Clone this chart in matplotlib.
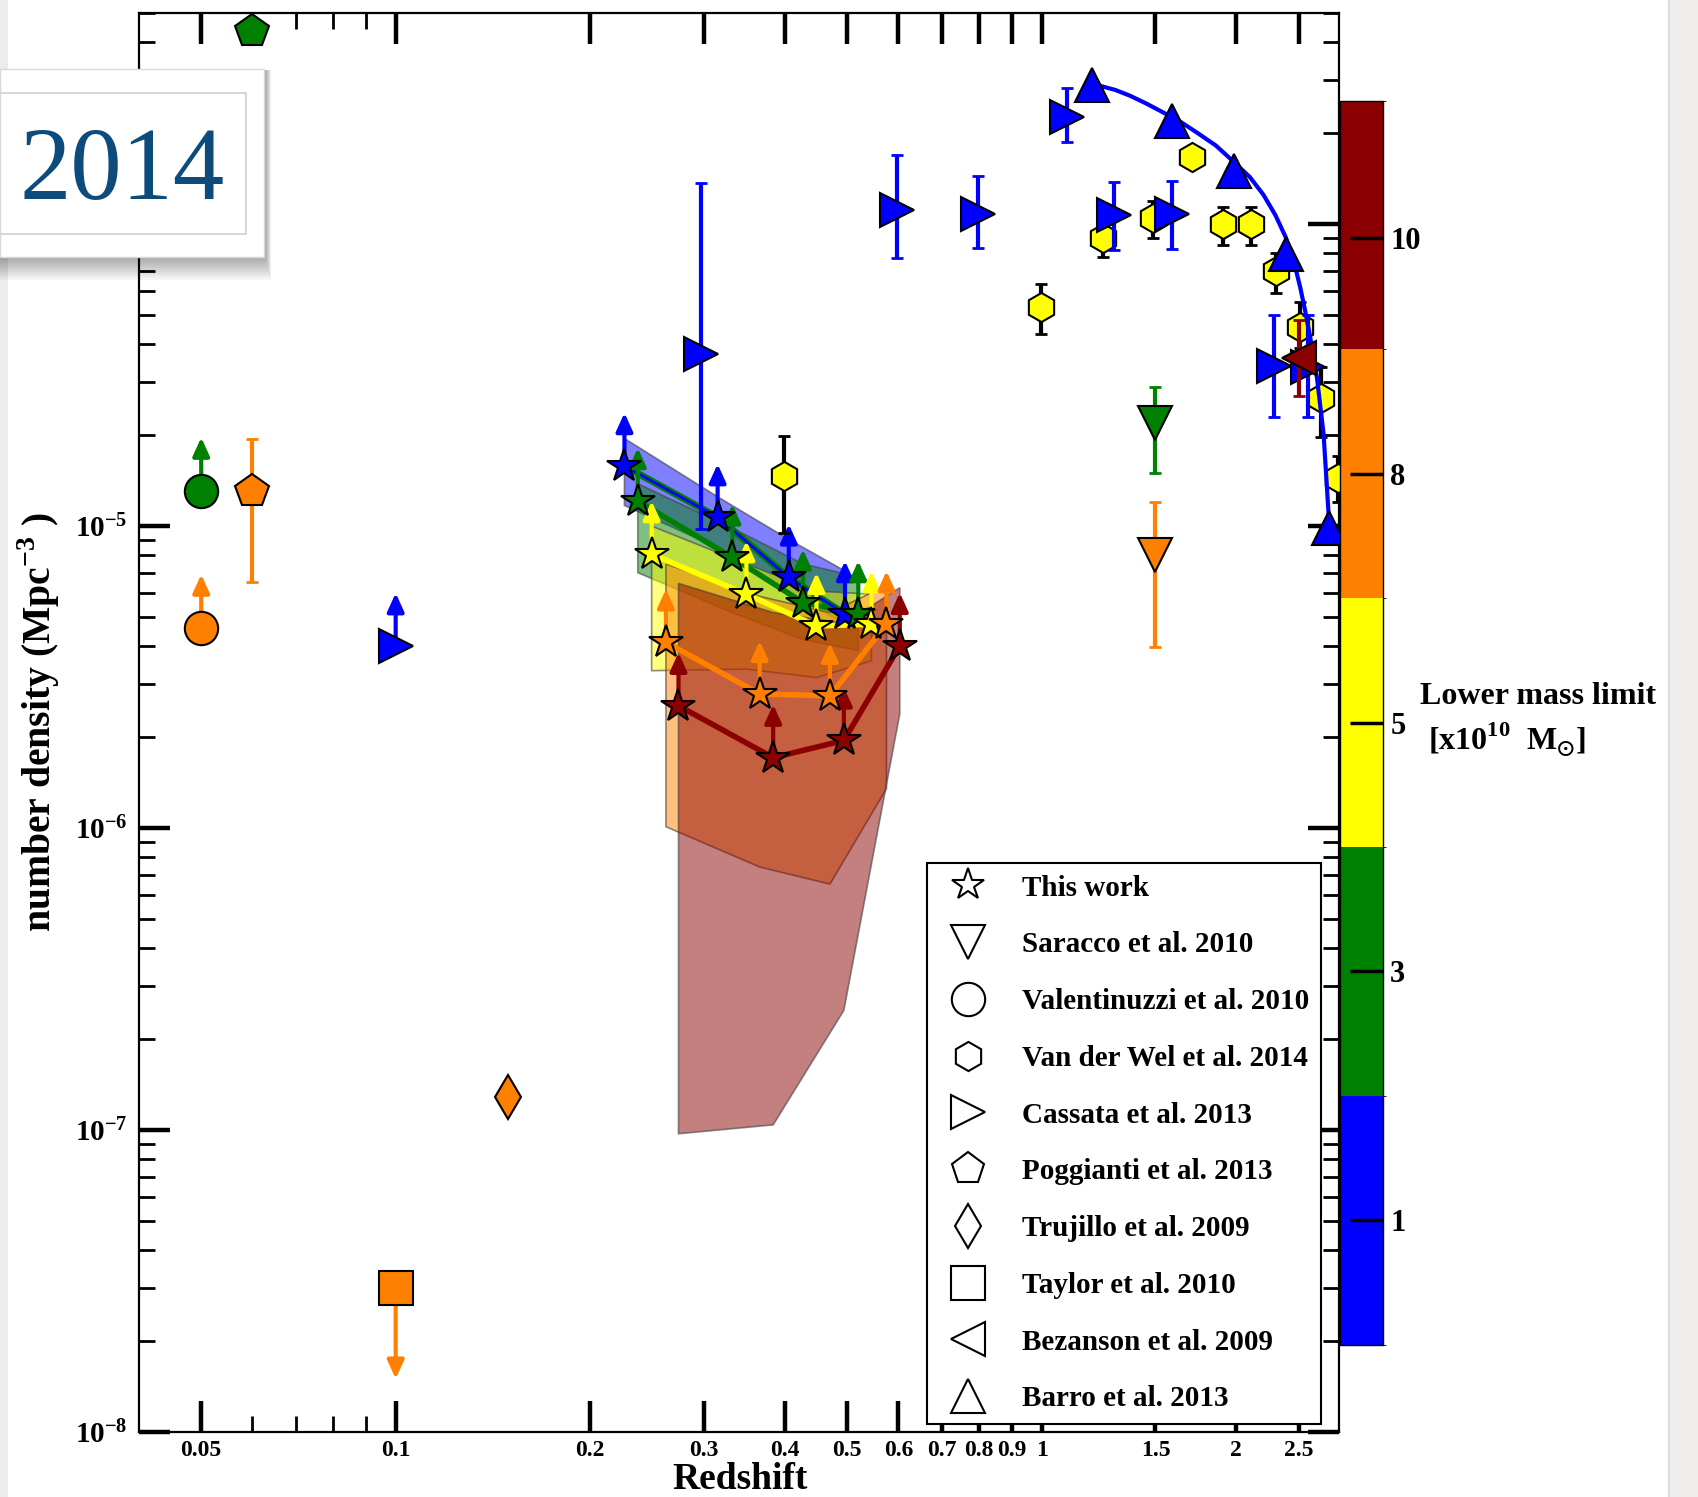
import numpy as np
import matplotlib
matplotlib.use('Agg')
import matplotlib.pyplot as plt
from matplotlib.colors import ListedColormap, BoundaryNorm, to_rgba
from matplotlib.cm import ScalarMappable
from matplotlib.lines import Line2D
from matplotlib.patches import Rectangle
from matplotlib.ticker import FixedLocator, FixedFormatter, NullFormatter, FuncFormatter
import matplotlib.patheffects as pe

plt.rcParams['font.family'] = ['Liberation Serif', 'DejaVu Serif']
plt.rcParams['font.weight'] = 'bold'
plt.rcParams['mathtext.fontset'] = 'custom'
plt.rcParams['mathtext.rm'] = 'Liberation Serif'
plt.rcParams['mathtext.bf'] = 'Liberation Serif:bold'
plt.rcParams['mathtext.fallback'] = 'stix'

# ---- data ----
mass_colors = ['#0000ff', '#008000', '#ffff00', '#ff8000', '#8b0000']
mass_labels = ['1', '3', '5', '8', '10']

# This work (stars), one row per mass bin: blue, green, yellow, orange, dark red
work_z = [[0.226, 0.315, 0.406, 0.496],
          [0.237, 0.332, 0.427, 0.520],
          [0.249, 0.349, 0.448, 0.545],
          [0.262, 0.366, 0.470, 0.575],
          [0.274, 0.384, 0.494, 0.603]]
work_n = [[1.58e-5, 1.07e-5, 6.76e-6, 5.11e-6],
          [1.21e-5, 7.87e-6, 5.58e-6, 5.11e-6],
          [8.07e-6, 5.95e-6, 4.67e-6, 4.73e-6],
          [4.12e-6, 2.78e-6, 2.74e-6, 4.73e-6],
          [2.54e-6, 1.71e-6, 1.95e-6, 4.01e-6]]
band_hi = [[1.95e-5, 1.25e-5, 9.03e-6, 7.10e-6],
           [1.38e-5, 9.84e-6, 7.49e-6, 6.78e-6],
           [1.00e-5, 7.49e-6, 6.09e-6, 5.95e-6],
           [7.49e-6, 5.85e-6, 5.17e-6, 6.35e-6],
           [6.46e-6, 5.17e-6, 4.76e-6, 6.25e-6]]
band_lo = [[1.17e-5, 8.48e-6, 5.94e-6, 4.76e-6],
           [7.01e-6, 5.17e-6, 4.21e-6, 3.87e-6],
           [3.32e-6, 3.36e-6, 3.15e-6, 3.58e-6],
           [1.01e-6, 7.43e-7, 6.52e-7, 1.35e-6],
           [9.72e-8, 1.04e-7, 2.49e-7, 2.39e-6]]

# Saracco et al. 2010 (green, orange)
sar_z = [1.5, 1.5]
sar_n = [2.20e-5, 7.99e-6]
sar_lo = [1.50e-5, 3.98e-6]
sar_hi = [2.89e-5, 1.20e-5]
sar_c = ['#008000', '#ff8000']

# Valentinuzzi et al. 2010 (lower limits)
val_z = [0.05, 0.05]
val_n = [1.31e-5, 4.61e-6]
val_c = ['#008000', '#ff8000']

# Poggianti et al. 2013
pog_z = [0.06, 0.06]
pog_n = [4.35e-4, 1.31e-5]
pog_lo = [4.35e-4, 6.51e-6]
pog_hi = [4.35e-4, 1.94e-5]
pog_c = ['#008000', '#ff8000']

# Van der Wel et al. 2014
vdw_z = [0.399, 0.996, 1.243, 1.485, 1.711, 1.911, 2.110, 2.307, 2.507, 2.705, 2.87]
vdw_n = [1.466e-5, 5.33e-5, 8.97e-5, 1.05e-4, 1.67e-4, 1.00e-4, 1.00e-4, 7.00e-5, 4.57e-5, 2.66e-5, 1.447e-5]
vdw_lo = [9.5e-6, 4.34e-5, 7.78e-5, 9.01e-5, 1.67e-4, 8.50e-5, 8.50e-5, 5.90e-5, 3.90e-5, 1.97e-5, 1.2e-5]
vdw_hi = [1.99e-5, 6.31e-5, 1.03e-4, 1.19e-4, 1.67e-4, 1.14e-4, 1.14e-4, 8.04e-5, 5.53e-5, 3.37e-5, 1.7e-5]

# Cassata et al. 2013 (first point is a lower limit)
cas_lim_z, cas_lim_n = 0.1, 4.0e-6
cas_z = [0.297, 0.597, 0.796, 1.094, 1.293, 1.591, 2.288, 2.58]
cas_n = [3.72e-5, 1.116e-4, 1.077e-4, 2.267e-4, 1.069e-4, 1.077e-4, 3.38e-5, 3.35e-5]
cas_lo = [9.8e-6, 7.74e-5, 8.35e-5, 1.869e-4, 8.19e-5, 8.25e-5, 2.30e-5, 2.30e-5]
cas_hi = [1.37e-4, 1.689e-4, 1.443e-4, 2.815e-4, 1.382e-4, 1.389e-4, 4.99e-5, 4.99e-5]

# Trujillo et al. 2009, Taylor et al. 2010 (upper limit)
tru_z, tru_n = 0.1494, 1.29e-7
tay_z, tay_n = 0.1, 3.0e-8

# Bezanson et al. 2009
bez_z, bez_n, bez_lo, bez_hi = 2.499, 3.61e-5, 2.70e-5, 4.8e-5

# Barro et al. 2013 + curve
bar_z = [1.195, 1.591, 1.987, 2.388, 2.78]
bar_n = [2.89e-4, 2.19e-4, 1.50e-4, 7.94e-5, 9.89e-6]
barfit_z = [1.195, 1.231, 1.300, 1.370, 1.450, 1.543, 1.640, 1.738, 1.860, 1.987, 2.100,
            2.204, 2.300, 2.388, 2.455, 2.513, 2.560, 2.604, 2.667, 2.731, 2.78]
barfit_n = [2.92e-4, 2.87e-4, 2.78e-4, 2.66e-4, 2.51e-4, 2.34e-4, 2.18e-4, 2.01e-4, 1.82e-4,
            1.60e-4, 1.43e-4, 1.25e-4, 1.07e-4, 9.01e-5, 7.55e-5, 6.16e-5, 5.10e-5, 4.21e-5,
            3.10e-5, 2.01e-5, 1.095e-5]

xticks = [0.05, 0.1, 0.2, 0.3, 0.4, 0.5, 0.6, 0.7, 0.8, 0.9, 1, 1.5, 2, 2.5]
xticklabels = ['0.05', '0.1', '0.2', '0.3', '0.4', '0.5', '0.6', '0.7', '0.8', '0.9', '1', '1.5', '2', '2.5']
xminor = [0.06, 0.07, 0.08, 0.09]

legend_entries = [('*', 24, 'This work'), ('v', 24, 'Saracco et al. 2010'),
                  ('o', 24, 'Valentinuzzi et al. 2010'), ('h', 21, 'Van der Wel et al. 2014'),
                  ('>', 24, 'Cassata et al. 2013'), ('p', 24, 'Poggianti et al. 2013'),
                  ('d', 22, 'Trujillo et al. 2009'), ('s', 24, 'Taylor et al. 2010'),
                  ('<', 24, 'Bezanson et al. 2009'), ('^', 24, 'Barro et al. 2013')]

# ---- figure ----
fig = plt.figure(figsize=(16.98, 14.97), dpi=100)
ax = fig.add_axes([0.08163, 0.04342, 0.70666, 0.94790])
ax.set_xscale('log')
ax.set_yscale('log')
ax.set_xlim(0.04, 2.88)
ax.set_ylim(1e-8, 5e-4)

LIM = 1.5  # arrow length factor for limits


def arrow(x, y, color, factor, z=4):
    ax.annotate('', xy=(x, y * factor), xytext=(x, y),
                arrowprops=dict(arrowstyle='-|>,head_length=0.55,head_width=0.25',
                                color=color, lw=3, shrinkA=0, shrinkB=0, mutation_scale=20),
                zorder=z)


def ylab(v, p):
    # the 1e-4 label sits under the year card in the original
    e = round(np.log10(v))
    return '' if e > -5 else r'$\mathbf{10^{%d}}$' % e


# bands
for i, c in enumerate(mass_colors):
    zz = work_z[i] + work_z[i][::-1]
    nn = band_hi[i] + band_lo[i][::-1]
    ax.fill(zz, nn, facecolor=to_rgba(c, 0.5), edgecolor=(0.25, 0.25, 0.25, 0.6), lw=1.2, zorder=1 + i * 0.1)

# lines, arrows, stars
for i, c in enumerate(mass_colors):
    if i == 0:
        ax.plot(work_z[i], work_n[i], color=c, lw=2, zorder=3.5,
                path_effects=[pe.Stroke(linewidth=5, foreground='#008000'), pe.Normal()])
    else:
        ax.plot(work_z[i], work_n[i], color=c, lw=4, zorder=3)
    for x, y in zip(work_z[i], work_n[i]):
        arrow(x, y, c, LIM, z=4)
for i, c in enumerate(mass_colors):
    ax.plot(work_z[i], work_n[i], ls='none', marker='*', ms=25, mfc=c, mec='k', mew=1.5, zorder=6)

# Valentinuzzi
for x, y, c in zip(val_z, val_n, val_c):
    arrow(x, y, c, LIM)
    ax.plot(x, y, ls='none', marker='o', ms=24, mfc=c, mec='k', mew=1.5, zorder=6)

# Poggianti
for x, y, lo, hi, c in zip(pog_z, pog_n, pog_lo, pog_hi, pog_c):
    ax.errorbar(x, y, yerr=[[y - lo], [hi - y]], fmt='none', ecolor=c, elinewidth=3,
                capsize=4, capthick=2, zorder=5)
    ax.plot(x, y, ls='none', marker='p', ms=25, mfc=c, mec='k', mew=1.5, zorder=6)

# Saracco
for x, y, lo, hi, c in zip(sar_z, sar_n, sar_lo, sar_hi, sar_c):
    ax.errorbar(x, y, yerr=[[y - lo], [hi - y]], fmt='none', ecolor=c, elinewidth=3,
                capsize=4, capthick=2, zorder=5)
    ax.plot(x, y, ls='none', marker='v', ms=24, mfc=c, mec='k', mew=1.5, zorder=6)

# Van der Wel
vdw_n_a = np.array(vdw_n)
ax.errorbar(vdw_z, vdw_n, yerr=[vdw_n_a - np.array(vdw_lo), np.array(vdw_hi) - vdw_n_a],
            fmt='none', ecolor='k', elinewidth=3, capsize=4, capthick=2, zorder=5)
ax.plot(vdw_z, vdw_n, ls='none', marker='h', ms=21, mfc='#ffff00', mec='k', mew=1.5, zorder=6)

# Cassata
arrow(cas_lim_z, cas_lim_n, '#0000ff', LIM)
ax.plot(cas_lim_z, cas_lim_n, ls='none', marker='>', ms=24, mfc='#0000ff', mec='k', mew=1.5, zorder=6)
cas_n_a = np.array(cas_n)
ax.errorbar(cas_z, cas_n, yerr=[cas_n_a - np.array(cas_lo), np.array(cas_hi) - cas_n_a],
            fmt='none', ecolor='#0000ff', elinewidth=3, capsize=4, capthick=2, zorder=6.2)
ax.plot(cas_z, cas_n, ls='none', marker='>', ms=24, mfc='#0000ff', mec='k', mew=1.5, zorder=6.3)

# Trujillo, Taylor
ax.plot(tru_z, tru_n, ls='none', marker='d', ms=22, mfc='#ff8000', mec='k', mew=1.5, zorder=6)
arrow(tay_z, tay_n, '#ff8000', 0.5)
ax.plot(tay_z, tay_n, ls='none', marker='s', ms=25, mfc='#ff8000', mec='k', mew=1.5, zorder=6)

# Barro
ax.plot(barfit_z, barfit_n, color='#0000ff', lw=3, zorder=6.4)
ax.plot(bar_z, bar_n, ls='none', marker='^', ms=24, mfc='#0000ff', mec='k', mew=1.5, zorder=6.5)

# Bezanson
ax.errorbar(bez_z, bez_n, yerr=[[bez_n - bez_lo], [bez_hi - bez_n]], fmt='none', ecolor='#8b0000',
            elinewidth=3, capsize=4, capthick=2, zorder=6.6)
ax.plot(bez_z, bez_n, ls='none', marker='<', ms=24, mfc='#8b0000', mec='k', mew=1.5, zorder=6.7)

# axes styling
ax.xaxis.set_major_locator(FixedLocator(xticks))
ax.xaxis.set_major_formatter(FixedFormatter(xticklabels))
ax.xaxis.set_minor_locator(FixedLocator(xminor))
ax.xaxis.set_minor_formatter(NullFormatter())
ax.yaxis.set_major_formatter(FuncFormatter(ylab))
ax.yaxis.set_minor_formatter(NullFormatter())
ax.tick_params(which='major', direction='in', length=22, width=3.2, top=True, right=True)
ax.tick_params(which='minor', direction='in', length=11.5, width=2, top=True, right=True)
ax.tick_params(axis='x', which='major', labelsize=17, pad=6)
ax.tick_params(axis='y', which='major', labelsize=21, pad=8)
for s in ax.spines.values():
    s.set_linewidth(1.6)

ax.set_xlabel('Redshift', fontsize=27, fontweight='bold')
ax.xaxis.set_label_coords(0.501, -0.021)
ax.set_ylabel(r'number density (Mpc$^{-3}$ )', fontsize=28.5, fontweight='bold')
ax.yaxis.set_label_coords(-0.064, 0.5)

handles = [Line2D([], [], ls='none', marker=m, ms=s, mfc='white', mec='k', mew=1.5, label=l)
           for m, s, l in legend_entries]
leg = ax.legend(handles=handles, loc='upper left', bbox_to_anchor=(0.657, 0.401), fontsize=21,
                frameon=True, fancybox=False, edgecolor='k', framealpha=1, handlelength=2.0,
                handletextpad=0.85, labelspacing=1.02, borderpad=0.4, borderaxespad=0)
leg.get_frame().set_linewidth(1.5)
leg.set_zorder(20)

# colorbar
cax = fig.add_axes([0.78887, 0.10187, 0.02580, 0.83086])
cmap = ListedColormap(mass_colors)
norm = BoundaryNorm(np.arange(6), cmap.N)
cb = fig.colorbar(ScalarMappable(norm=norm, cmap=cmap), cax=cax, ticks=[0.5, 1.5, 2.5, 3.5, 4.45])
cb.set_ticklabels(mass_labels)
cax.tick_params(direction='in', length=24, width=2.5, labelsize=22, pad=5, right=True, left=False)
cb.outline.set_linewidth(1)
fig.text(1420 / 1698, 1 - 696 / 1497, 'Lower mass limit', fontsize=23, fontweight='bold',
         ha='left', va='center')
fig.text(1428 / 1698, 1 - 740 / 1497, r'[x10$^{10}$  M$_{\odot}$]', fontsize=23, fontweight='bold',
         ha='left', va='center')

# overlay: year card and page frame
ov = fig.add_axes([0, 0, 1, 1], zorder=30)
ov.set_xlim(0, 1698)
ov.set_ylim(1497, 0)
ov.axis('off')
ov.patch.set_alpha(0)
ov.add_patch(Rectangle((0, 0), 8, 1497, fc='#ececec', ec='none'))
ov.add_patch(Rectangle((1668, 0), 30, 1497, fc='#efeeec', ec='none'))
ov.add_patch(Rectangle((1668, 0), 2, 1497, fc='#dcdcdc', ec='none'))
for i in range(12):
    ov.add_patch(Rectangle((0, 70), 266 + i * 0.5, 188 + i * 2, fc='k', ec='none', alpha=0.03))
ov.add_patch(Rectangle((0, 69), 264, 188, fc='white', ec='#d8d8d8', lw=1))
ov.add_patch(Rectangle((-3, 93), 249, 141, fill=False, ec='#d0d0d0', lw=1.2))
ov.text(122, 174, '2014', ha='center', va='center', fontsize=74, color='#0d4b7d',
        fontweight='normal', family='Liberation Serif')

fig.savefig('out.png', dpi=100, facecolor='white')
